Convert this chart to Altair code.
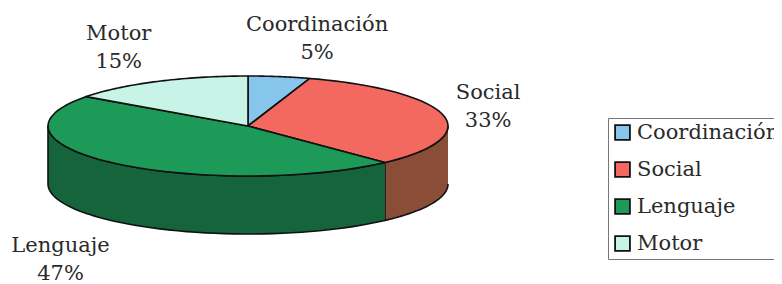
import altair as alt
import pandas as pd

# ---- data ----
categories = ["Coordinación", "Social", "Lenguaje", "Motor"]
percent = [5, 33, 47, 15]
top_colors = ["#86C5EC", "#F3685F", "#1E9A58", "#C8F4E7"]
side_colors = ["#5B8FB0", "#8A4D38", "#15643C", "#8DBBAE"]

df = pd.DataFrame({
    "categoria": categories,
    "valor": percent,
    "orden": list(range(len(categories))),
    "lado": side_colors,
})

# ---- layout (pixels of the svg) ----
W, H = 766, 276
CX, CY = 240, 118          # centre of the top face
RX, RY = 200, 50           # ellipse radii in px
DEPTH = 58 / RY            # thickness in y units
N = 48                     # arc resolution

x_dom = [-CX / RX, (W - CX) / RX]
y_dom = [(CY - H) / RY, CY / RY]

xs = alt.X("px:Q", scale=alt.Scale(domain=x_dom, nice=False, zero=False), axis=None)
ys = alt.Y("py:Q", scale=alt.Scale(domain=y_dom, nice=False, zero=False), axis=None)

base = alt.Chart(df).transform_window(
    fin="sum(valor)", sort=[alt.SortField("orden")], frame=[None, 0]
).transform_joinaggregate(
    total="sum(valor)"
).transform_calculate(
    a0="2*PI*(datum.fin - datum.valor)/datum.total",
    a1="2*PI*datum.fin/datum.total",
)

# side walls (front half only)
side = base.transform_calculate(
    b0="max(datum.a0, PI/2)", b1="min(datum.a1, 3*PI/2)"
).transform_filter(
    "datum.b1 > datum.b0"
).transform_calculate(
    i=f"sequence(0, {2 * N + 2})"
).transform_flatten(["i"]).transform_calculate(
    j=f"datum.i <= {N} ? datum.i : {2 * N + 1} - datum.i",
).transform_calculate(
    ang=f"datum.b0 + (datum.b1 - datum.b0) * datum.j / {N}",
).transform_calculate(
    px="sin(datum.ang)",
    py=f"cos(datum.ang) - (datum.i > {N} ? {DEPTH} : 0)",
).mark_line(
    filled=True, stroke="#111", strokeWidth=1.6, strokeJoin="round"
).encode(
    x=xs, y=ys,
    fill=alt.Fill("lado:N", scale=None),
    detail="categoria:N",
    order="i:Q",
)

# top faces
top = base.transform_calculate(
    i=f"sequence(-1, {N + 2})"
).transform_flatten(["i"]).transform_calculate(
    ang=f"datum.a0 + (datum.a1 - datum.a0) * clamp(datum.i, 0, {N}) / {N}",
).transform_calculate(
    px=f"(datum.i < 0 || datum.i > {N}) ? 0 : sin(datum.ang)",
    py=f"(datum.i < 0 || datum.i > {N}) ? 0 : cos(datum.ang)",
).mark_line(
    filled=True, stroke="#111", strokeWidth=1.6, strokeJoin="round"
).encode(
    x=xs, y=ys,
    fill=alt.Fill(
        "categoria:N",
        scale=alt.Scale(domain=categories, range=top_colors),
        legend=alt.Legend(
            title=None, orient="none", legendX=600, legendY=110,
            symbolType="square", symbolSize=220, symbolStrokeColor="#111",
            symbolStrokeWidth=1.8, symbolOpacity=1,
            labelFont="DejaVu Serif", labelFontSize=21, labelColor="#2a2a2a",
            labelOffset=4, rowPadding=14, padding=4,
            strokeColor="#777", fillColor="white", labelLimit=400,
        ),
    ),
    detail="categoria:N",
    order="i:Q",
)

# data labels
A = 233 / RX
K = 3.3 / RX
LY = 88 / RY
FRONT = 68 / RY
labels = base.transform_calculate(
    mid="(datum.a0 + datum.a1)/2",
).transform_calculate(
    txt="datum.categoria + '\\n' + datum.valor + '%'",
    px=f"{A}*sin(datum.mid) + {K}*length(datum.categoria)*(sin(datum.mid) < 0 ? -1 : 1)",
    py=f"{LY}*cos(datum.mid) - (cos(datum.mid) < 0 ? {FRONT} : 0)",
).mark_text(
    font="DejaVu Serif", fontSize=21, lineHeight=28, color="#2a2a2a",
    lineBreak="\n", align="center", baseline="middle", dx=-7, dy=-14,
).encode(x=xs, y=ys, text="txt:N")

chart = alt.layer(side, top, labels).properties(
    width=W, height=H,
    autosize=alt.AutoSizeParams(type="none"),
    padding=0,
    background="white",
).configure_view(stroke=None)

chart.save("out.html", embed_options={"renderer": "svg", "actions": False})
